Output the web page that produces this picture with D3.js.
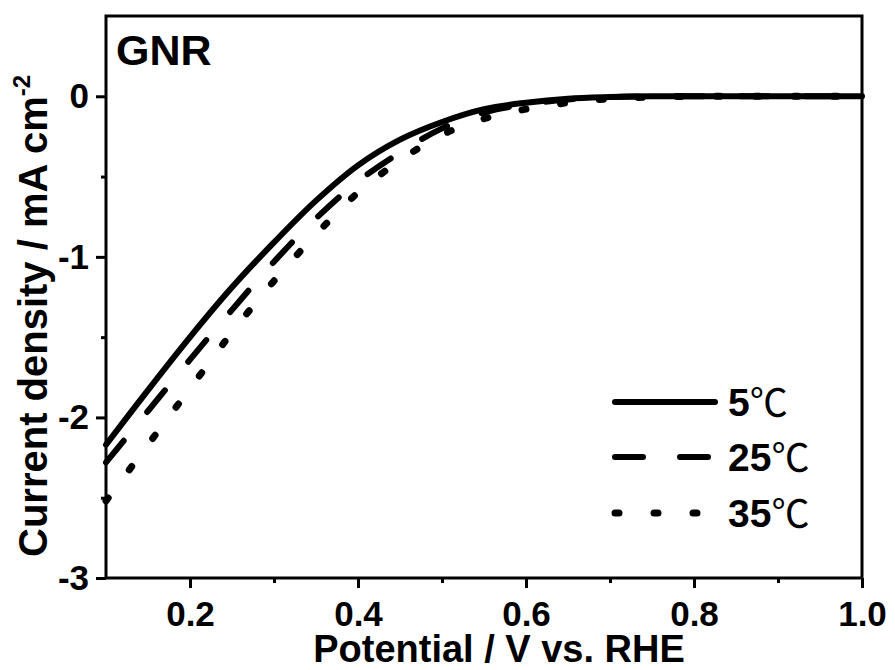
<!DOCTYPE html>
<html lang="en">
<head>
<meta charset="UTF-8">
<title>GNR LSV</title>
<script src="https://cdn.jsdelivr.net/npm/d3@7"></script>
<style>
  body { margin: 0; background: #fff; }
  text { font-family: "Liberation Sans", Arial, sans-serif; font-weight: bold; fill: #000; }
</style>
</head>
<body>
<svg width="895" height="670"></svg>
<script>
// data
var potential = [0.10, 0.15, 0.20, 0.25, 0.30, 0.35, 0.40, 0.45, 0.50, 0.55, 0.60, 0.65, 0.70, 0.75, 0.80, 0.85, 0.90, 0.95, 1.00];
var j5  = [-2.17, -1.83, -1.50, -1.19, -0.91, -0.65, -0.43, -0.27, -0.16, -0.08, -0.04, -0.015, -0.005, 0, 0, 0, 0, 0, 0];
var j25 = [-2.28, -1.96, -1.64, -1.33, -1.03, -0.76, -0.53, -0.35, -0.20, -0.10, -0.05, -0.02, -0.005, 0, 0, 0, 0, 0, 0];
var j35 = [-2.52, -2.17, -1.82, -1.47, -1.15, -0.86, -0.60, -0.40, -0.24, -0.14, -0.08, -0.04, -0.015, -0.005, 0, 0, 0, 0, 0];
var seriesNames = ['5', '25', '35'];
var xTicks = [0.2, 0.4, 0.6, 0.8, 1.0];
var xMinor = [0.3, 0.5, 0.7, 0.9];
var yTicks = [-3, -2, -1, 0];
var yMinor = [-2.5, -1.5, -0.5];

var series = [j5, j25, j35];
// line styles: solid, dash, dot
var dashes = [null, '28,37', '4,35'];
var widths = [6, 6, 7];

var svg = d3.select('svg');
// plot box (window.top is reserved, so not "top")
var pLeft = 106, pRight = 862, pTop = 16, pBottom = 578;

var x = d3.scaleLinear().domain([0.1, 1.0]).range([pLeft, pRight]);
var y = d3.scaleLinear().domain([-3, 0.5]).range([pBottom, pTop]);

// curves
var line = d3.line()
    .x(function(d) { return x(d[0]); })
    .y(function(d) { return y(d[1]); })
    .curve(d3.curveCatmullRom.alpha(0.5));

series.forEach(function(s, i) {
    var pts = potential.map(function(p, k) { return [p, s[k]]; });
    svg.append('path')
        .attr('d', line(pts))
        .attr('fill', 'none')
        .attr('stroke', '#000')
        .attr('stroke-width', widths[i])
        .attr('stroke-linecap', 'round')
        .attr('stroke-linejoin', 'round')
        .attr('stroke-dasharray', dashes[i]);
});

// axes
var xAxis = svg.append('g').attr('transform', 'translate(0,' + pBottom + ')')
    .call(d3.axisBottom(x).tickValues(xTicks).tickFormat(d3.format('.1f')).tickSize(10).tickPadding(13));
svg.append('g').attr('transform', 'translate(0,' + pBottom + ')')
    .call(d3.axisBottom(x).tickValues(xMinor).tickFormat('').tickSize(5));
svg.append('g').attr('transform', 'translate(' + pLeft + ',0)')
    .call(d3.axisLeft(y).tickValues(yTicks).tickFormat(function(d) { return String(d); }).tickSize(10).tickPadding(7));
svg.append('g').attr('transform', 'translate(' + pLeft + ',0)')
    .call(d3.axisLeft(y).tickValues(yMinor).tickFormat('').tickSize(5));

svg.selectAll('.domain').remove();
svg.selectAll('.tick line').attr('stroke', '#000').attr('stroke-width', 3);
svg.selectAll('.tick text')
    .style('font-family', '"Liberation Sans", Arial, sans-serif')
    .style('font-weight', 'bold')
    .style('font-size', '35px')
    .attr('fill', '#000');
xAxis.selectAll('.tick text').attr('dy', '0.71em');

// frame
svg.append('rect')
    .attr('x', pLeft).attr('y', pTop)
    .attr('width', pRight - pLeft).attr('height', pBottom - pTop)
    .attr('fill', 'none').attr('stroke', '#000').attr('stroke-width', 3);

// titles
svg.append('text')
    .attr('x', 499).attr('y', 662)
    .attr('text-anchor', 'middle')
    .style('font-size', '38px')
    .text('Potential / V vs. RHE');

var yt = svg.append('text')
    .attr('transform', 'translate(47,557) rotate(-90)')
    .style('font-size', '40px');
yt.append('tspan').text('Current density / mA cm');
yt.append('tspan').attr('dy', -17).style('font-size', '24px').text('-2');

svg.append('text')
    .attr('x', 116).attr('y', 65)
    .style('font-size', '43px')
    .text('GNR');

// legend
var legendY = [402, 457, 513];
seriesNames.forEach(function(name, i) {
    svg.append('line')
        .attr('x1', 615).attr('x2', 715)
        .attr('y1', legendY[i]).attr('y2', legendY[i])
        .attr('stroke', '#000')
        .attr('stroke-width', widths[i])
        .attr('stroke-linecap', 'round')
        .attr('stroke-dasharray', dashes[i]);
    var t = svg.append('text')
        .attr('x', 728).attr('y', legendY[i] + 14)
        .style('font-size', '39px');
    t.append('tspan').text(name);
    t.append('tspan')
        .style('font-family', '"Noto Sans CJK SC", sans-serif')
        .style('font-weight', 'normal')
        .style('font-size', '38px')
        .text('℃');
});
</script>
</body>
</html>
